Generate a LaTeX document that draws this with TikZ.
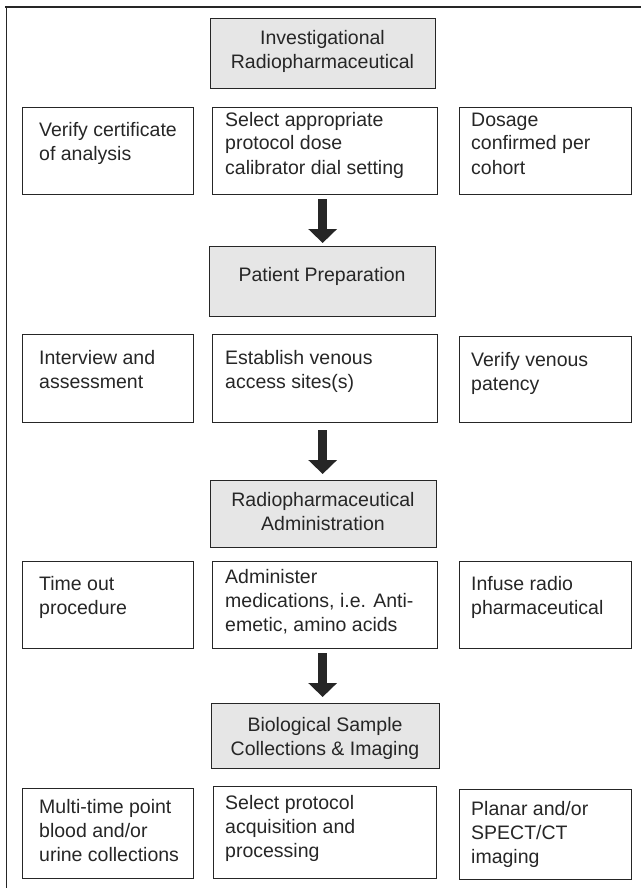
\documentclass[tikz,border=0pt]{standalone}
\usepackage{fontspec}
\setmainfont{Liberation Sans}
\usetikzlibrary{arrows.meta}
\definecolor{ink}{HTML}{262626}
\definecolor{boxgray}{HTML}{E6E6E6}
\begin{document}
\begin{tikzpicture}[x=1pt,y=-1pt,
  box/.style={draw=ink, line width=1.3pt, inner sep=0pt, anchor=north west},
  greybox/.style={box, fill=boxgray},
  lbl/.style={inner sep=0pt, text=ink, font=\fontsize{19.5}{24}\selectfont},
  bigarrow/.style={draw=ink, line width=9.5pt, -{Triangle[length=14pt,width=28pt]}}]
\useasboundingbox (0,0) rectangle (641,888);
% frame
\draw[ink, line width=2.5pt] (5.25,7) -- (641,7);
\draw[ink, line width=1.5pt] (6.5,7) -- (6.5,888);

% step 1
\node[greybox, minimum width=225pt, minimum height=70pt] (inv) at (210,18) {};
\node[lbl, anchor=base] (invt) at (322.5,45) {\parbox[t]{215pt}{\centering Investigational\\Radiopharmaceutical}};
\node[box, minimum width=171pt, minimum height=87pt] (l1) at (21.5,107) {};
\node[lbl, anchor=base west] (l1t) at (39,136) {\parbox[t]{150pt}{\raggedright Verify certificate\\of analysis}};
\node[box, minimum width=225pt, minimum height=87pt] (m1) at (212,107) {};
\node[lbl, anchor=base west] (m1t) at (225,126) {\parbox[t]{205pt}{\raggedright Select appropriate\\protocol dose\\calibrator dial setting}};
\node[box, minimum width=172pt, minimum height=87pt] (r1) at (459,107) {};
\node[lbl, anchor=base west] (r1t) at (471,126) {\parbox[t]{155pt}{\raggedright Dosage\\confirmed per\\cohort}};

% step 2
\node[greybox, minimum width=226pt, minimum height=70pt] (pat) at (209,246) {};
\node[lbl, anchor=base] (patt) at (322,281) {Patient Preparation};
\node[box, minimum width=171pt, minimum height=88pt] (l2) at (21.5,334) {};
\node[lbl, anchor=base west] (l2t) at (39,364) {\parbox[t]{150pt}{\raggedright Interview and\\assessment}};
\node[box, minimum width=225pt, minimum height=88pt] (m2) at (212,334) {};
\node[lbl, anchor=base west] (m2t) at (225,364) {\parbox[t]{205pt}{\raggedright Establish venous\\access sites(s)}};
\node[box, minimum width=172pt, minimum height=86pt] (r2) at (459,336) {};
\node[lbl, anchor=base west] (r2t) at (471,366) {\parbox[t]{155pt}{\raggedright Verify venous\\patency}};

% step 3
\node[greybox, minimum width=226pt, minimum height=67pt] (adm) at (210,480) {};
\node[lbl, anchor=base] (admt) at (323,506) {\parbox[t]{215pt}{\centering Radiopharmaceutical\\Administration}};
\node[box, minimum width=171pt, minimum height=87pt] (l3) at (21.5,561) {};
\node[lbl, anchor=base west] (l3t) at (39,590) {\parbox[t]{150pt}{\raggedright Time out\\procedure}};
\node[box, minimum width=225pt, minimum height=87pt] (m3) at (212,561) {};
\node[lbl, anchor=base west] (m3t) at (225,583) {\parbox[t]{205pt}{\raggedright Administer\\medications, i.e. Anti-\\emetic, amino acids}};
\node[box, minimum width=172pt, minimum height=87pt] (r3) at (459,561) {};
\node[lbl, anchor=base west] (r3t) at (471,590) {\parbox[t]{155pt}{\raggedright Infuse radio\\pharmaceutical}};

% step 4
\node[greybox, minimum width=228pt, minimum height=65pt] (bio) at (211,703) {};
\node[lbl, anchor=base] (biot) at (325,731) {\parbox[t]{218pt}{\centering Biological Sample\\Collections \& Imaging}};
\node[box, minimum width=171pt, minimum height=90pt] (l4) at (21.5,788) {};
\node[lbl, anchor=base west] (l4t) at (39,813) {\parbox[t]{150pt}{\raggedright Multi-time point\\blood and/or\\urine collections}};
\node[box, minimum width=223pt, minimum height=92pt] (m4) at (213,786) {};
\node[lbl, anchor=base west] (m4t) at (225,809) {\parbox[t]{205pt}{\raggedright Select protocol\\acquisition and\\processing}};
\node[box, minimum width=172pt, minimum height=90pt] (r4) at (459,789) {};
\node[lbl, anchor=base west] (r4t) at (471,815) {\parbox[t]{155pt}{\raggedright Planar and/or\\SPECT/CT\\imaging}};

% arrows
\draw[bigarrow] ([yshift=-4pt]m1.south -| pat.north) -- ([yshift=3pt]pat.north);
\draw[bigarrow] ([yshift=-7pt]m2.south -| pat.north) -- ([yshift=6pt]adm.north -| pat.north);
\draw[bigarrow] ([yshift=-4pt]m3.south -| pat.north) -- ([yshift=6pt]bio.north -| pat.north);
\end{tikzpicture}
\end{document}
